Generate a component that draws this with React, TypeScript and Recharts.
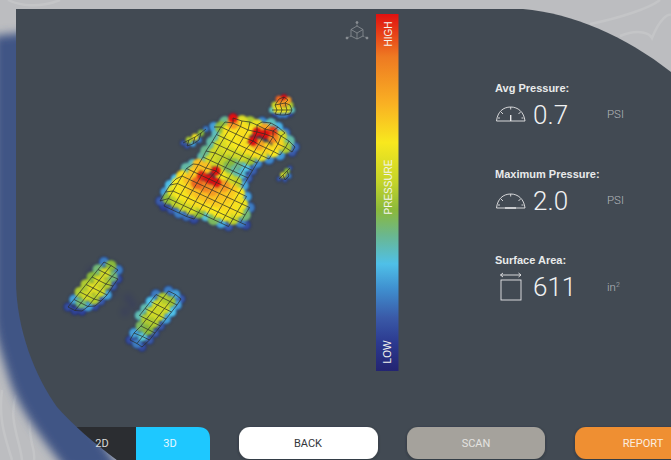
import { ScatterChart, Scatter, XAxis, YAxis, ReferenceArea } from "recharts";

type MeshNode = [number, number, number] | null;
const _ = null;

// every node is [x, y, pressure]
const bodyRows: MeshNode[][] = [
  [_, _, _, _, _, _, [262, 122, 0.22], [271, 123, 0.34], [278, 127, 0.28], [285, 133, 0.2]],
  [_, _, _, [233, 118, 1], [242, 121, 0.58], [250, 122, 0.5], [257, 125, 0.6], [265, 129, 0.78], [273, 131, 0.95], [281, 136, 0.56], [289, 141, 0.36], [295, 147, 0.18]],
  [_, _, [225, 122, 0.38], [233, 123, 0.8], [240.5, 126.5, 0.66], [248, 130, 0.65], [257, 132, 1], [265, 134, 1], [273, 137, 0.85], [278, 144, 0.68], [285.5, 147.5, 0.5], [292, 152, 0.15]],
  [_, [214, 127, 0.25], [221, 127, 0.46], [228.5, 130.5, 0.65], [236, 134, 0.64], [243.5, 137.5, 0.66], [253, 141, 1], [258.5, 144.5, 0.78], [266, 148, 0.68], [273.5, 151.5, 0.64], [280, 155, 0.24]],
  [_, _, [216.5, 134.5, 0.34], [224, 138, 0.58], [231.5, 141.5, 0.62], [239, 145, 0.64], [246.5, 148.5, 0.66], [254, 152, 0.66], [261.5, 155.5, 0.6], [269, 159, 0.22]],
  [_, _, [212, 142, 0.36], [219.5, 145.5, 0.56], [227, 149, 0.58], [234.5, 152.5, 0.56], [242, 156, 0.55], [249.5, 159.5, 0.48], [257, 163, 0.22]],
  [_, _, [206, 151, 0.38], [215, 153, 0.55], [222.5, 156.5, 0.52], [230, 160, 0.45], [237.5, 163.5, 0.38], [245, 167, 0.3], [252.5, 170.5, 0.16]],
  [_, _, [203, 157, 0.36], [210.5, 160.5, 0.56], [218, 164, 0.52], [225.5, 167.5, 0.42], [233, 171, 0.36], [240.5, 174.5, 0.32], [248, 178, 0.16]],
  [_, [193, 164, 0.34], [198.5, 164.5, 0.72], [206, 168, 0.72], [216, 171, 1], [221, 175, 0.62], [228.5, 178.5, 0.55], [236, 182, 0.52], [243.5, 185.5, 0.26]],
  [_, [186.5, 168.5, 0.36], [194, 172, 0.7], [201.5, 175.5, 0.98], [209, 179, 1], [216.5, 182.5, 1], [224, 186, 0.8], [231.5, 189.5, 0.7], [239, 193, 0.64], [246.5, 196.5, 0.25]],
  [[176, 179, 0.3], [182, 176, 0.66], [189.5, 179.5, 0.72], [197, 183, 0.9], [204.5, 186.5, 0.85], [212, 190, 0.8], [219.5, 193.5, 0.72], [227, 197, 0.7], [234.5, 200.5, 0.66], [242, 204, 0.62], [249.5, 207.5, 0.2]],
  [[170, 185, 0.3], [177.5, 183.5, 0.64], [185, 187, 0.66], [192.5, 190.5, 0.7], [200, 194, 0.72], [207.5, 197.5, 0.72], [215, 201, 0.7], [222.5, 204.5, 0.68], [230, 208, 0.66], [237.5, 211.5, 0.62], [245, 215, 0.4]],
  [[165.5, 192, 0.25], [173, 191, 0.6], [180.5, 194.5, 0.64], [188, 198, 0.65], [195.5, 201.5, 0.66], [203, 205, 0.66], [210.5, 208.5, 0.64], [218, 212, 0.64], [225.5, 215.5, 0.62], [233, 219, 0.52], [240.5, 222.5, 0.2], [246, 225, 0.12]],
  [[160, 201, 0.15], [168.5, 198.5, 0.46], [176, 202, 0.52], [183.5, 205.5, 0.56], [191, 209, 0.56], [198.5, 212.5, 0.46], [206, 216, 0.32], [213.5, 219.5, 0.42], [221, 223, 0.26], [228.5, 226.5, 0.15]],
  [_, [164, 206, 0.1], [171.5, 209.5, 0.15], [179, 213, 0.2], [186.5, 216.5, 0.18], [194, 219, 0.12]],
];

const peakRows: MeshNode[][] = [
  [_, [279, 99, 0.9], [284, 97, 1], [288, 100, 0.8]],
  [_, [275, 105, 0.55], [280, 104, 0.75], [285, 103, 0.8], [290, 105, 0.5]],
  [[272, 110, 0.35], [277, 110, 0.62], [282, 110, 0.6], [287, 110, 0.6], [292, 110, 0.35]],
  [_, [275, 114, 0.12], [280, 115, 0.2], [285, 115, 0.2], [290, 114, 0.12]],
];

const sliverRows: MeshNode[][] = [
  [[183, 143, 0.15], [189, 140, 0.5], [195, 137, 0.62], [201, 133, 0.45], [206, 129, 0.2]],
  [_, [187, 146, 0.15], [193, 144, 0.25], [199, 140, 0.2]],
];

const islandRows: MeshNode[][] = [
  [[279, 179, 0.15], [283, 175, 0.55], [287, 171, 0.45], [290, 168, 0.15]],
  [_, [285, 180, 0.15], [289, 176, 0.2]],
];

const leftFootRows: MeshNode[][] = [
  [[68, 307, 0.12], [75, 310.5, 0.1], [82, 311, 0.1]],
  [[74, 299.5, 0.25], [81, 303, 0.4], [88, 306.5, 0.25], [95, 306, 0.12]],
  [[80, 292, 0.5], [87, 295.5, 0.55], [94, 299, 0.5], [101, 301, 0.15]],
  [[86, 284.5, 0.5], [93, 288, 0.58], [100, 291.5, 0.55], [107, 295, 0.25]],
  [[92, 277, 0.45], [99, 280.5, 0.56], [106, 284, 0.5], [113, 286, 0.15]],
  [[98, 269.5, 0.4], [105, 273, 0.55], [112, 276.5, 0.4], [118, 279, 0.12]],
  [[104, 262, 0.2], [111, 265.5, 0.45], [118, 270, 0.2]],
];

const rightFootRows: MeshNode[][] = [
  [_, [130, 340, 0.12], [137, 343.5, 0.2], [142, 347, 0.12]],
  [_, [134, 333, 0.25], [142.5, 336.5, 0.32], [149.5, 340, 0.15]],
  [_, [141, 326, 0.42], [148, 329.5, 0.45], [155, 333, 0.15]],
  [[139.5, 315.5, 0.35], [146.5, 319, 0.5], [153.5, 322.5, 0.5], [160.5, 326, 0.15]],
  [[145, 308.5, 0.35], [152, 312, 0.55], [159, 315.5, 0.55], [166, 319, 0.25]],
  [[150.5, 301.5, 0.3], [157.5, 305, 0.55], [164.5, 308.5, 0.55], [171.5, 312, 0.3]],
  [[156, 294.5, 0.2], [163, 298, 0.5], [170, 301.5, 0.48], [177, 305, 0.25]],
  [_, [168.5, 291, 0.2], [175.5, 294.5, 0.25], [181, 299, 0.15]],
];

const traceMarks: MeshNode[] = [[91, 271, 0], [113, 293, 0], [133, 305, 0], [128, 298, 0], [125, 312, 0]];

const pressureStops: [number, string][] = [
  [0, "#232472"], [0.08, "#2c3a90"], [0.15, "#3a5aa8"], [0.23, "#3f8fcf"], [0.3, "#4fc0e8"],
  [0.38, "#6ab78f"], [0.45, "#8ab93c"], [0.53, "#c4d42a"], [0.64, "#f8e81e"], [0.75, "#f9b023"],
  [0.88, "#ee7a22"], [1, "#e01010"],
];

const blobs: { rows: MeshNode[][]; r: number }[] = [
  { rows: bodyRows, r: 6 },
  { rows: peakRows, r: 3.6 },
  { rows: sliverRows, r: 3.4 },
  { rows: islandRows, r: 3 },
  { rows: leftFootRows, r: 5.6 },
  { rows: rightFootRows, r: 5.6 },
];

function hexToRgb(hex: string) {
  return [1, 3, 5].map(i => parseInt(hex.slice(i, i + 2), 16));
}

function pressureColor(p: number) {
  for (let i = 1; i < pressureStops.length; i++) {
    const [p0, c0] = pressureStops[i - 1];
    const [p1, c1] = pressureStops[i];
    if (p <= p1) {
      const t = (p - p0) / (p1 - p0);
      const a = hexToRgb(c0);
      const b = hexToRgb(c1);
      return `rgb(${a.map((v, k) => Math.round(v + (b[k] - v) * t)).join(",")})`;
    }
  }
  return pressureStops[pressureStops.length - 1][1];
}

const toPoint = (n: MeshNode) => (n ? { x: n[0], y: n[1], p: n[2] } : null);
const present = (list: MeshNode[]) => list.map(toPoint).filter(Boolean) as { x: number; y: number; p: number }[];
const columnsOf = (rows: MeshNode[][]) => {
  const count = Math.max(...rows.map(r => r.length));
  return Array.from({ length: count }, (_c, j) => rows.map(r => r[j] ?? null));
};
// a line stops where the mesh has a gap
const segmentsOf = (line: MeshNode[]) => {
  const out: MeshNode[][] = [[]];
  line.forEach(n => {
    if (n) out[out.length - 1].push(n);
    else if (out[out.length - 1].length) out.push([]);
  });
  return out.filter(s => s.length > 1);
};

const noMark = () => null;
const gridStroke = { stroke: "#2a2d26", strokeWidth: 0.9, strokeOpacity: 0.8 };

function heatShape(r: number) {
  return (props: any) => {
    const p = props.payload.p;
    const size = p < 0.2 ? r * 0.74 : p < 0.36 ? r * 0.88 : p > 0.9 ? r * 0.78 : r;
    return <circle cx={props.cx} cy={props.cy} r={size} fill={pressureColor(p)} />;
  };
}

const panelPath = "M16,9 L523,9 C572,13 625,36 671,72 L671,460 L117,460 C95,444 72,424 57,407 C36,378 16,330 16,280 Z";

function Backdrop() {
  return (
    <svg width={671} height={460} style={{ position: "absolute", left: 0, top: 0 }}>
      <defs>
        <filter id="bandBlur" x="-50%" y="-10%" width="200%" height="120%">
          <feGaussianBlur stdDeviation="5" />
        </filter>
        <filter id="btnShadow" x="-10%" y="-20%" width="120%" height="150%">
          <feDropShadow dx="0" dy="1" stdDeviation="1.5" floodColor="#22262b" floodOpacity="0.6" />
        </filter>
        <clipPath id="panelClip"><path d={panelPath} /></clipPath>
      </defs>
      <rect width={671} height={460} fill="#bcbdc0" />
      <g fill="none" stroke="#c4c5c7" strokeWidth={2.5}>
        <path d="M8,0 C20,6 40,8 60,0" />
        <path d="M590,24 C620,18 650,8 660,0" />
        <path d="M620,36 C640,28 650,34 652,38 C660,18 668,14 671,15" />
        <path d="M2,390 C-2,420 6,440 12,460" />
        <path d="M16,395 C8,420 20,440 22,460" />
        <path d="M30,420 C28,440 36,450 34,460" />
      </g>
      <path d="M-6,36 L30,32 L30,330 L120,470 L66,470 C44,440 18,410 8,375 C2,355 -4,340 -6,320 Z" fill="#3f5585" filter="url(#bandBlur)" />
      <path d={panelPath} fill="#424a53" />
      <g clipPath="url(#panelClip)">
        <rect x={60} y={427} width={80} height={34} fill="#2b2d31" />
      </g>
      <path d="M136,427 L198,427 Q210,427 210,439 L210,460 L136,460 Z" fill="#1ec8ff" />
      <rect x={239} y={427} width={139} height={32} rx={11} fill="#ffffff" filter="url(#btnShadow)" />
      <rect x={407} y={427} width={138} height={32} rx={11} fill="#a5a29c" filter="url(#btnShadow)" />
      <rect x={575} y={427} width={120} height={32} rx={11} fill="#ef8f33" filter="url(#btnShadow)" />
    </svg>
  );
}

function Gauge({ x, y, needle }: { x: number; y: number; needle: string }) {
  return (
    <g transform={`translate(${x},${y})`} fill="none" stroke="#e6e7e8" strokeWidth={0.9}>
      <path d="M0.5,14 L29,14 C28,5 22,0 14.7,0 C7,0 1.5,5 0.5,14 Z" />
      <path d="M14.7,0 V2.5 M5,5 L7,7 M24.5,5 L22.5,7 M2,11 H4 M27.5,11 H25.5" />
      <path d={needle} strokeWidth={1.4} />
    </g>
  );
}

function Overlay() {
  const label = { fontFamily: "Liberation Sans", fontWeight: 700, fontSize: 11, fill: "#e9eaeb" } as const;
  const big = { fontFamily: "Roboto", fontWeight: 300, fontSize: 26, fill: "#f0f1f2" } as const;
  const unit = { fontFamily: "Roboto", fontWeight: 300, fontSize: 11.5, fill: "#b4b8bc" } as const;
  const side = { fontFamily: "Liberation Sans", fontSize: 10, fill: "#f4f4ee", textAnchor: "middle" } as const;
  const btn = { fontFamily: "Roboto", fontSize: 11, textAnchor: "middle" } as const;
  return (
    <svg width={671} height={460} style={{ position: "absolute", left: 0, top: 0 }}>
      <text {...side} transform="translate(392,34) rotate(-90)">HIGH</text>
      <text {...side} transform="translate(392,187) rotate(-90)">PRESSURE</text>
      <text {...side} transform="translate(391,352) rotate(-90)">LOW</text>

      <g fill="none" stroke="#8d9297" strokeWidth={0.8}>
        <path d="M357,26 L363,29.5 V36 L357,39 L351,36 V29.5 Z M351,29.5 L357,33 L363,29.5 M357,33 V39" />
        <path d="M357,26 V23 M363,36 L367,38 M351,36 L347,38" strokeDasharray="1.5 1" />
        <circle cx={357} cy={22.5} r={1} fill="#8d9297" />
        <circle cx={367} cy={38} r={1} fill="#8d9297" />
        <circle cx={347} cy={38} r={1} fill="#8d9297" />
      </g>

      <text {...label} x={495} y={92}>Avg Pressure:</text>
      <Gauge x={496} y={107} needle="M14.7,8 V14" />
      <text {...big} x={533} y={123.5}>0.7</text>
      <text {...unit} x={607} y={118}>PSI</text>

      <text {...label} x={495} y={178}>Maximum Pressure:</text>
      <Gauge x={496} y={194} needle="M9,14 H20" />
      <text {...big} x={533} y={209.5}>2.0</text>
      <text {...unit} x={607} y={204}>PSI</text>

      <text {...label} x={495} y={264}>Surface Area:</text>
      <g fill="none" stroke="#e6e7e8" strokeWidth={0.9}>
        <rect x={501} y={280} width={20} height={20} />
        <path d="M500.5,275 H521 M503,273 L500.5,275 L503,277 M518.5,273 L521,275 L518.5,277" />
      </g>
      <text {...big} x={533} y={295.5}>611</text>
      <text {...unit} x={607} y={291}>in<tspan fontSize={7} dy={-4}>2</tspan></text>

      <text {...btn} x={102} y={447} fill="#d8d9da">2D</text>
      <text {...btn} x={170} y={447} fill="#e8f8ff">3D</text>
      <text {...btn} x={308} y={447} fill="#33363a">BACK</text>
      <text {...btn} x={476} y={447} fill="#e4e3e0">SCAN</text>
      <text {...btn} x={643} y={447} fill="#fbeee0">REPORT</text>
    </svg>
  );
}

export default function App() {
  return (
    <div style={{ position: "fixed", left: 0, top: 0, width: 671, height: 460, overflow: "hidden" }}>
      <style>{`.heat{filter:blur(1.3px) drop-shadow(0 0 1px #1d2558)}.trace{filter:blur(3px);opacity:.3}`}</style>
      <Backdrop />
      <div style={{ position: "absolute", left: 0, top: 0 }}>
        <ScatterChart width={671} height={460} margin={{ top: 0, right: 0, bottom: 0, left: 0 }}>
          <defs>
            <linearGradient id="pressureScale" x1="0" y1="1" x2="0" y2="0">
              {pressureStops.map(([p, c]) => (
                <stop key={p} offset={p} stopColor={c} />
              ))}
            </linearGradient>
          </defs>
          <XAxis type="number" dataKey="x" domain={[0, 671]} hide />
          <YAxis type="number" dataKey="y" domain={[0, 460]} reversed hide />
          <ReferenceArea x1={376} x2={398.5} y1={14} y2={371} fill="url(#pressureScale)" fillOpacity={1} stroke="none" />
          <Scatter data={present(traceMarks)} className="trace" isAnimationActive={false} shape={heatShape(5)} />
          {blobs.map((b, k) => (
            <Scatter
              key={`heat-${k}`}
              data={present(b.rows.flat()).sort((m, n) => m.p - n.p)}
              className="heat"
              isAnimationActive={false}
              shape={heatShape(b.r)}
            />
          ))}
          {blobs.flatMap((b, k) =>
            [...b.rows, ...columnsOf(b.rows)].flatMap(segmentsOf).map((line, n) => (
              <Scatter
                key={`mesh-${k}-${n}`}
                data={present(line)}
                line={gridStroke}
                lineType="joint"
                isAnimationActive={false}
                shape={noMark}
              />
            ))
          )}
        </ScatterChart>
      </div>
      <Overlay />
    </div>
  );
}
